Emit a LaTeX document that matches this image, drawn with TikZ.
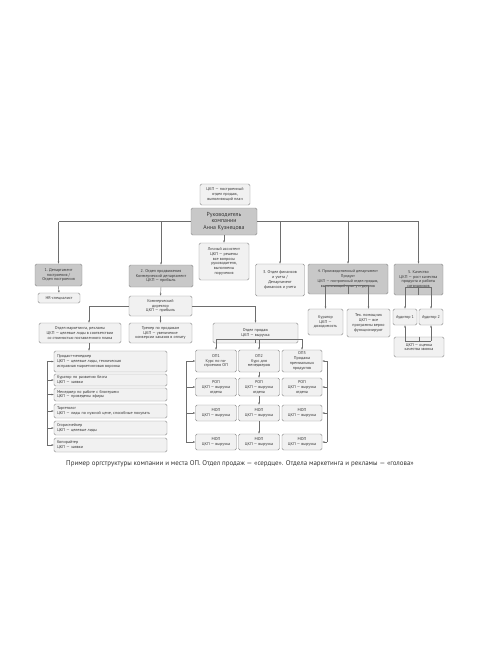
\documentclass[tikz,border=0pt]{standalone}
\usepackage{fontspec}
\setmainfont{PT Sans}
\usetikzlibrary{arrows.meta}
\definecolor{lightc}{HTML}{F1F1F1}
\definecolor{darkc}{HTML}{C8C8C8}
\definecolor{bordc}{HTML}{8A8A8A}
\definecolor{linec}{HTML}{6E6E6E}
\definecolor{txtc}{HTML}{333333}
\newcommand\fsz{\fontsize{4.1}{4.8}\selectfont}
\newcommand\fbig{\fontsize{5.8}{6.8}\selectfont}
\newcommand\fcap{\fontsize{6.9}{7.6}\selectfont}
\tikzset{
  box/.style={draw=bordc, line width=0.4pt, rounded corners=1.5pt, fill=lightc, align=center, inner sep=0.5pt, font=\fsz, text=txtc},
  dbox/.style={box, fill=darkc},
  lbox/.style={box, align=left, text width=107pt, inner xsep=3pt, minimum width=113pt},
  wh/.style 2 args={minimum width=#1pt, minimum height=#2pt},
  ln/.style={draw=linec, line width=0.45pt},
  arr/.style={draw=linec, line width=0.45pt, -{Latex[length=2.2pt,width=2pt]}},
}
\begin{document}
\begin{tikzpicture}[x=1pt,y=-1pt]
\useasboundingbox[fill=white] (0,0) rectangle (480,650);
% top level
\node[box, wh={50}{21}] (top) at (225,194.5) {ЦКП — построенный\\отдел продаж,\\выполняющий план};
\node[dbox, wh={66}{27}, font=\fbig] (main) at (224,221.5) {Руководитель\\компании\\Анна Кузнецова};
\node[box, wh={50}{37}] (assist) at (224,261.5) {Личный ассистент\\ЦКП — решены\\все вопросы\\руководителя,\\выполнены\\поручения};
% departments
\node[dbox, wh={47}{22}] (d1) at (58.5,275) {1. Департамент\\построения /\\Отдел построения};
\node[box, wh={42}{10}] (hr) at (59,298) {HR-специалист};
\node[dbox, wh={64}{22}] (d2) at (161,276) {2. Отдел продвижения\\Коммерческий департамент\\ЦКП — прибыль};
\node[box, wh={63}{20}] (kd) at (160.5,306) {Коммерческий\\директор\\ЦКП — прибыль};
\node[box, wh={49}{32}] (d3) at (280,280) {3. Отдел финансов\\и учета /\\Департамент\\финансов и учета};
\node[dbox, wh={80}{30}, font=\fontsize{3.9}{4.7}\selectfont] (d4) at (348,279) {4. Производственный департамент\\Продукт\\ЦКП — построенный отдел продаж,\\выполняющий план у студентов};
\node[dbox, wh={49}{31}] (d5) at (418.5,279.5) {5. Качество\\ЦКП — рост качества\\продукта и работы\\сотрудников};
% dept 4 / 5 children
\node[box, wh={35}{26}] (kur) at (325.5,322) {Куратор\\ЦКП —\\доходимость};
\node[box, wh={43}{28}] (tech) at (368.5,323) {Тех. помощник\\ЦКП — все\\программы верно\\функционируют};
\node[box, wh={24}{16}] (a1) at (405,317) {Аудитор 1};
\node[box, wh={24}{16}] (a2) at (431,317) {Аудитор 2};
\node[box, wh={50}{20}] (oc) at (419,347) {ЦКП — оценка\\качества звонка};
% commercial children
\node[box, wh={82}{20}] (mkt) at (80,333) {Отдел маркетинга, рекламы\\ЦКП — целевые лиды в соответствии\\со стоимостью поставленного плана};
\node[box, wh={63}{20}] (tr) at (160.5,333) {Тренер по продажам\\ЦКП — увеличение\\конверсии заказов в оплату};
\node[box, wh={85}{20}] (sales) at (255.5,333) {Отдел продаж\\ЦКП — выручка};
% marketing list
\node[lbox, minimum height=21pt] (pm) at (110.5,361.5) {Продакт-менеджер\\ЦКП — целевые лиды, техническая\\исправная маркетинговая воронка};
\node[lbox, minimum height=12pt] (kb) at (110.5,380) {Куратор по развитию блога\\ЦКП — заявки};
\node[lbox, minimum height=13pt] (mb) at (110.5,394.5) {Менеджер по работе с блогерами\\ЦКП — проведены эфиры};
\node[lbox, minimum height=14pt] (tg) at (110.5,411) {Таргетолог\\ЦКП — лиды по нужной цене, способные покупать};
\node[lbox, minimum height=14pt] (sm) at (110.5,428) {Сторисмейкер\\ЦКП — целевые лиды};
\node[lbox, minimum height=14pt] (kr) at (110.5,445) {Копирайтер\\ЦКП — заявки};
% sales grid
\node[box, wh={41}{22}] (op1) at (216,361) {ОП1\\Курс по по-\\строению ОП};
\node[box, wh={41}{22}] (op2) at (259,361) {ОП2\\Курс для\\менеджеров};
\node[box, wh={40}{22}] (op3) at (302,361) {ОП3\\Продажа\\премиальных\\продуктов};
\node[box, wh={41}{18}] (r1) at (216,387) {РОП\\ЦКП — выручка\\отдела};
\node[box, wh={41}{18}] (r2) at (259,387) {РОП\\ЦКП — выручка\\отдела};
\node[box, wh={40}{18}] (r3) at (302,387) {РОП\\ЦКП — выручка\\отдела};
\node[box, wh={41}{16}] (m1) at (216,413) {МОП\\ЦКП — выручка};
\node[box, wh={41}{16}] (m2) at (259,413) {МОП\\ЦКП — выручка};
\node[box, wh={40}{16}] (m3) at (302,413) {МОП\\ЦКП — выручка};
\node[box, wh={41}{16}] (n1) at (216,442) {МОП\\ЦКП — выручка};
\node[box, wh={41}{16}] (n2) at (259,442) {МОП\\ЦКП — выручка};
\node[box, wh={40}{16}] (n3) at (302,442) {МОП\\ЦКП — выручка};
% caption
\node[font=\fcap, text=txtc, inner sep=0pt] (cap) at (240,464) {Пример оргструктуры компании и места ОП. Отдел продаж — «сердце». Отдела маркетинга и рекламы — «голова»};
% ---- connectors ----
\draw[ln] (main.west) -- (d1.north |- main.west);
\draw[arr] (d1.north |- main.west) -- (d1.north);
\draw[arr] (d2.north |- main.west) -- (d2.north);
\draw[ln] (main.east) -- (d5.north |- main.east);
\draw[arr] (d5.north |- main.east) -- (d5.north);
\draw[arr] (d3.north |- main.east) -- (d3.north);
\draw[arr] (d4.north |- main.east) -- (d4.north);
\draw[arr] (main.south) -- (assist.north);
\draw[arr] (d1.south) -- (hr.north);
\draw[arr] (d2.south) -- (kd.north);
\draw[arr] (kd.south) -- (tr.north);
\draw[arr] (kd.west) -| ([xshift=9pt]mkt.north);
\draw[arr] (kd.east) -| (sales.north);
\draw[arr] ([xshift=9pt]mkt.south) -- ([xshift=-21.5pt]pm.north);
% dept 4 branch
\coordinate (b4) at ([yshift=9pt]d4.south);
\draw[ln] (d4.south) -- (b4);
\draw[ln] (kur.north |- b4) -- (tech.north |- b4);
\draw[arr] (kur.north |- b4) -- (kur.north);
\draw[arr] (tech.north |- b4) -- (tech.north);
% dept 5 branch
\coordinate (b5) at ([yshift=8pt]d5.south);
\draw[ln] (d5.south) -- (b5);
\draw[ln] (a1.north |- b5) -- (a2.north |- b5);
\draw[arr] (a1.north |- b5) -- (a1.north);
\draw[arr] (a2.north |- b5) -- (a2.north);
\coordinate (bo) at ([yshift=-4pt]oc.north);
\draw[ln] (oc.north) -- (bo);
\draw[ln] (a1.south |- bo) -- (a2.south |- bo);
\draw[arr] (a1.south |- bo) -- (a1.south);
\draw[arr] (a2.south |- bo) -- (a2.south);
% marketing list bracket
\coordinate (lbt) at ([xshift=-7pt]pm.west);
\coordinate (lbb) at ([xshift=-7pt]kr.west);
\draw[ln] (lbt) -- (lbb);
\foreach \n in {pm,kb,mb,tg,sm,kr} \draw[arr] (lbt |- \n.west) -- (\n.west);
% sales branch
\coordinate (bs) at ([yshift=4pt]sales.south);
\draw[ln] (sales.south) -- (bs);
\draw[ln] (op1.north |- bs) -- (op3.north |- bs);
\foreach \n in {op1,op2,op3} \draw[arr] (\n.north |- bs) -- (\n.north);
\draw[arr] (op2.south) -- (r2.north);
\draw[arr] (r2.south) -- (m2.north);
\draw[arr] (m2.south) -- (n2.north);
\coordinate (slt) at ([xshift=-9pt]op1.west);
\coordinate (slb) at ([xshift=-9pt]n1.west);
\draw[ln] (slt) -- (slb);
\foreach \n in {op1,r1,m1,n1} \draw[arr] (slt |- \n.west) -- (\n.west);
\coordinate (srt) at ([xshift=5pt]op3.east);
\coordinate (srb) at ([xshift=5pt]n3.east);
\draw[ln] (srt) -- (srb);
\foreach \n in {op3,r3,m3,n3} \draw[arr] (srt |- \n.east) -- (\n.east);
\end{tikzpicture}
\end{document}
